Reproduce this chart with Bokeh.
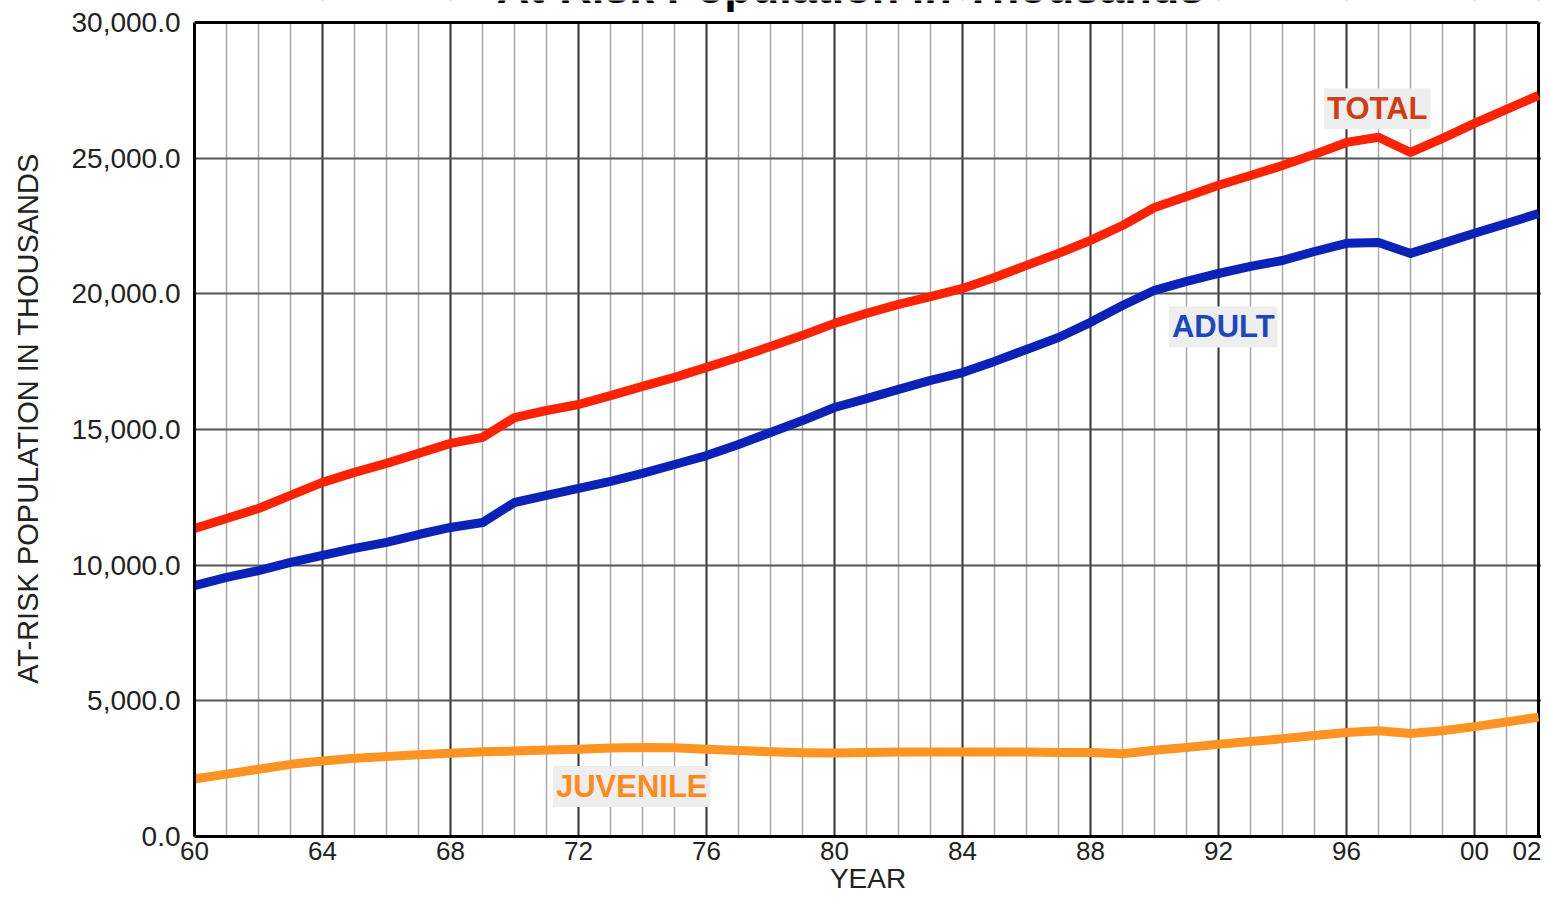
from bokeh.plotting import figure
from bokeh.models import Range1d, FixedTicker, NumeralTickFormatter, Label
from bokeh.embed import file_html
from bokeh.resources import INLINE

years = list(range(1960, 2003))
total = [11350, 11720, 12090, 12570, 13050, 13420, 13750, 14120, 14490, 14710,
         15440, 15700, 15920, 16250, 16590, 16920, 17290, 17660, 18060, 18470,
         18910, 19280, 19610, 19900, 20200, 20600, 21050, 21490, 21970, 22520,
         23180, 23590, 24000, 24360, 24730, 25140, 25580, 25770, 25210, 25730,
         26280, 26800, 27310]
adult = [9250, 9550, 9800, 10100, 10360, 10620, 10840, 11130, 11390, 11570,
         12310, 12570, 12830, 13090, 13380, 13710, 14040, 14450, 14890, 15330,
         15810, 16140, 16480, 16810, 17100, 17510, 17950, 18390, 18950, 19570,
         20130, 20460, 20750, 21010, 21230, 21560, 21860, 21890, 21490, 21860,
         22230, 22590, 22960]
juvenile = [2120, 2300, 2480, 2660, 2780, 2880, 2950, 3010, 3070, 3120,
            3150, 3190, 3220, 3260, 3280, 3270, 3220, 3170, 3120, 3090,
            3080, 3100, 3110, 3110, 3110, 3110, 3110, 3100, 3100, 3050,
            3180, 3280, 3400, 3500, 3600, 3720, 3830, 3900, 3800, 3900,
            4050, 4220, 4400]

x_ticks = [1960, 1964, 1968, 1972, 1976, 1980, 1984, 1988, 1992, 1996, 2000, 2002]
x_tick_labels = ["60", "64", "68", "72", "76", "80", "84", "88", "92", "96", "00", "02"]
y_ticks = [0, 5000, 10000, 15000, 20000, 25000, 30000]

FONT = "Liberation Sans"

# layout constants
W, H = 1541, 897
LEFT, BOTTOM = 194, 61
TOP_GAP = 22                       # pixels between canvas top and the 30,000 line
X0, X1 = 1960, 2002
Y0, Y1 = 0, 30000
frame_h = H - BOTTOM
y_end = Y1 * frame_h / (frame_h - TOP_GAP)   # frame reaches the canvas top
px_per_unit = frame_h / y_end
x_end = X1 + 3 * (X1 - X0) / (W - LEFT - 3)

p = figure(width=W, height=H, output_backend="svg", toolbar_location=None,
           x_range=Range1d(X0, x_end), y_range=Range1d(Y0, y_end),
           min_border_left=LEFT, min_border_top=0, min_border_right=0,
           min_border_bottom=BOTTOM)
p.background_fill_color = "white"
p.border_fill_color = "white"
p.outline_line_color = None

p.xaxis.ticker = FixedTicker(ticks=x_ticks, minor_ticks=years)
p.xaxis.major_label_overrides = {t: l for t, l in zip(x_ticks, x_tick_labels)}
p.yaxis.ticker = FixedTicker(ticks=y_ticks)
p.yaxis.formatter = NumeralTickFormatter(format="0,0.0")
p.yaxis.bounds = (Y0, Y1)

for ax in (p.xaxis[0], p.yaxis[0]):
    ax.axis_line_color = "black"
    ax.axis_line_width = 3
    ax.major_tick_line_color = None
    ax.minor_tick_line_color = None
    ax.major_tick_out = 0
    ax.minor_tick_out = 0
    ax.major_label_text_font = FONT
    ax.major_label_text_color = "#222222"
    ax.axis_label_text_font = FONT
    ax.axis_label_text_font_style = "normal"
    ax.axis_label_text_color = "#222222"

p.xaxis.major_label_text_font_size = "26px"
p.yaxis.major_label_text_font_size = "28px"
p.xaxis.major_label_standoff = 5
p.xaxis.axis_label = "YEAR"
p.xaxis.axis_label_text_font_size = "28px"
p.xaxis.axis_label_standoff = 0
p.yaxis.axis_label = "AT-RISK POPULATION IN THOUSANDS"
p.yaxis.axis_label_text_font_size = "29px"
p.yaxis.major_label_standoff = 14
p.yaxis.axis_label_standoff = 25

p.xgrid.grid_line_color = "#3a3a3a"
p.xgrid.grid_line_width = 2
p.xgrid.minor_grid_line_color = "#a8a8a8"
p.xgrid.minor_grid_line_width = 1.5
p.ygrid.grid_line_color = "#555555"
p.ygrid.grid_line_width = 2

# blank strip above the 30,000 line (holds the clipped title)
p.quad(left=X0, right=x_end, bottom=Y1, top=y_end * 1.05,
       fill_color="white", line_color=None)
# top and right border of the plotting area
p.segment(x0=[X0, X1], y0=[Y1, Y0], x1=[X1, X1], y1=[Y1, Y1],
          line_color="black", line_width=3)

p.line(years, juvenile, line_color="#ff9422", line_width=9, line_join="round")
p.line(years, adult, line_color="#0a22b8", line_width=9, line_join="round")
p.line(years, total, line_color="#ff2200", line_width=9, line_join="round")

def tag(x, y, text, color):
    p.add_layout(Label(x=x, y=y, text=text, text_color=color, text_font=FONT,
                       text_font_size="31px", text_font_style="bold",
                       text_align="left", text_baseline="middle",
                       background_fill_color="#eeeeee", background_fill_alpha=1.0,
                       padding=3))

tag(1995.3, 26820, "TOTAL", "#d23c14")
tag(1990.45, 18780, "ADULT", "#1d47bd")
tag(1971.2, 1840, "JUVENILE", "#ff8a1c")

# chart title: centred near the top edge, mostly cut off as in the reference
title_mid_px = -13   # cap-middle, pixels from canvas top
p.add_layout(Label(x=1980.5, y=y_end - title_mid_px / px_per_unit,
                   text="At-Risk Population in Thousands",
                   text_color="black", text_font=FONT, text_font_size="45px",
                   text_font_style="bold", text_align="center", text_baseline="middle"))

open("out.html", "w").write(file_html(p, INLINE))
